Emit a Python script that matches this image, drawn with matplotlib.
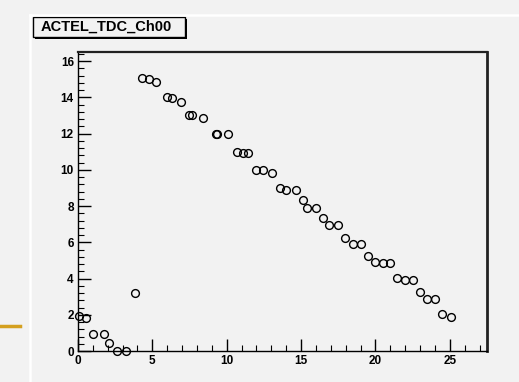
#=======================================================================
# TDC channel scatter, ROOT-like look
#=======================================================================

import matplotlib
matplotlib.use('Agg')
import matplotlib.pyplot as plt
from matplotlib.patches import Rectangle
from matplotlib.lines import Line2D
from matplotlib.ticker import MultipleLocator

#=======================================================================
# Data
#=======================================================================

title = "ACTEL_TDC_Ch00"

xvals = [0.1, 0.57, 1.04, 1.78, 2.1, 2.65, 3.25, 3.86,
         4.33, 4.8, 5.27, 6.0, 6.34, 6.95, 7.48, 7.68, 8.42,
         9.3, 9.36, 10.1, 10.7, 11.1, 11.45, 12.0, 12.45, 13.05,
         13.6, 14.0, 14.66, 15.1, 15.4, 16.0, 16.5, 16.9, 17.5,
         17.95, 18.5, 19.0, 19.5, 20.0, 20.5, 21.0, 21.45, 22.0, 22.5,
         23.0, 23.45, 24.0, 24.5, 25.06]
yvals = [1.94, 1.83, 0.94, 0.94, 0.44, 0.0, 0.0, 3.2,
         15.06, 15.0, 14.84, 14.0, 13.95, 13.73, 13.0, 13.0, 12.85,
         12.0, 12.0, 12.0, 11.0, 10.95, 10.95, 10.0, 9.97, 9.8,
         9.0, 8.9, 8.9, 8.36, 7.9, 7.9, 7.35, 6.97, 6.97,
         6.22, 5.9, 5.9, 5.26, 4.93, 4.87, 4.87, 4.04, 3.93, 3.93,
         3.27, 2.88, 2.88, 2.05, 1.88]

xticks = [0, 5, 10, 15, 20, 25]
yticks = [0, 2, 4, 6, 8, 10, 12, 14, 16]

#=======================================================================
# Figure / canvas
#=======================================================================

W, H = 519, 382
bg = '#f2f2f2'

fig = plt.figure(figsize=(W/100, H/100), dpi=100, facecolor=bg)

#white borders of the pad
fig.add_artist(Line2D([30/W, 1], [1-15/H, 1-15/H], color='white', lw=1.8))
fig.add_artist(Line2D([30/W, 30/W], [0, 1-15/H], color='white', lw=1.8))

#orange slide leftover on the left
fig.add_artist(Line2D([0, 20/W], [1-326/H, 1-326/H], color='#d4a020', lw=2.5))

ax = fig.add_axes([78/W, 1-351/H, (487-78)/W, (351-52)/H], facecolor=bg)

ax.plot(xvals, yvals, 'o', mfc='none', mec='black', ms=5.6, mew=1.0, clip_on=False)

ax.set_xlim(0, 27.5)
ax.set_ylim(0, 16.5)

ax.set_xticks(xticks)
ax.set_yticks(yticks)
ax.xaxis.set_minor_locator(MultipleLocator(1))
ax.yaxis.set_minor_locator(MultipleLocator(0.4))

ax.tick_params(which='major', direction='in', length=9, width=1, labelsize=8.5, pad=3)
ax.tick_params(which='minor', direction='in', length=4.5, width=0.8)
for lab in ax.get_xticklabels() + ax.get_yticklabels():
    lab.set_fontweight('bold')
    lab.set_family('Liberation Sans')

ax.spines['left'].set_linewidth(1.0)
ax.spines['bottom'].set_linewidth(1.0)
ax.spines['top'].set_linewidth(1.6)
ax.spines['right'].set_linewidth(2.0)
ax.spines['top'].set_color('#222222')
ax.spines['right'].set_color('#222222')

#=======================================================================
# Title box with shadow
#=======================================================================

bx, by, bw, bh = 33/W, 1-37/H, 152/W, 20/H
fig.add_artist(Rectangle((bx+2/W, by-2/H), bw, bh, transform=fig.transFigure,
                         fc='black', ec='black', lw=0))
fig.add_artist(Rectangle((bx, by), bw, bh, transform=fig.transFigure,
                         fc=bg, ec='black', lw=1))
fig.text(bx+bw/2 - 3/W, by+bh/2, title, ha='center', va='center',
         fontsize=10.5, fontweight='bold', family='Liberation Sans')

fig.savefig('out.png', dpi=100, facecolor=bg)
